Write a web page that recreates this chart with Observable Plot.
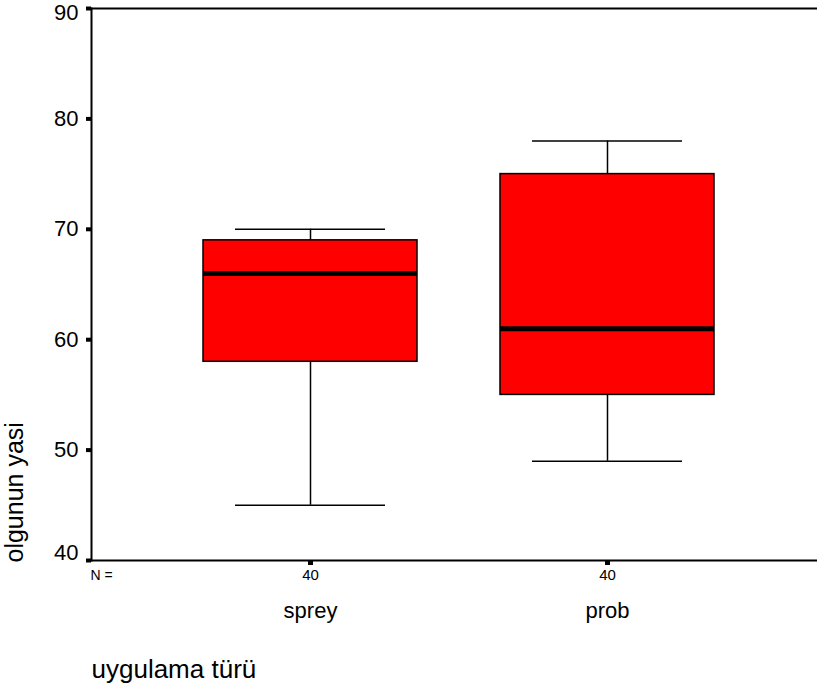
<!DOCTYPE html>
<html>
<head>
<meta charset="utf-8">
<script src="https://cdn.jsdelivr.net/npm/d3@7"></script>
<script src="https://cdn.jsdelivr.net/npm/@observablehq/plot@0.6"></script>
<style>
  html, body { margin: 0; padding: 0; background: #fff; }
  svg { display: block; }
</style>
</head>
<body>
<div id="chart"></div>
<script>
const categories = ["sprey", "prob"];
const lowWhisker = [45, 49];
const q1 = [58, 55];
const median = [66, 61];
const q3 = [69, 75];
const highWhisker = [70, 78];
const counts = [40, 40];
const yTicks = [40, 50, 60, 70, 80, 90];
const yLabel = "olgunun yasi";
const xLabel = "uygulama türü";

const rows = categories.map((c, i) => ({
  cat: c, lo: lowWhisker[i], q1: q1[i], med: median[i], q3: q3[i], hi: highWhisker[i], n: counts[i]
}));
const yMin = yTicks[0], yMax = yTicks[yTicks.length - 1];
const innerTicks = yTicks.filter(t => t !== yMin && t !== yMax);

const chart = Plot.plot({
  width: 817,
  height: 700,
  marginLeft: 91,
  marginRight: 0,
  marginTop: 8,
  marginBottom: 140,
  style: { fontFamily: "Arial, 'Liberation Sans', sans-serif", color: "#000", background: "#fff" },
  x: { type: "band", domain: categories, paddingInner: 0.278, paddingOuter: 0.359, align: 0.524, axis: null },
  y: { domain: [yMin, yMax], axis: null },
  marks: [
    Plot.ruleY([yMax], { stroke: "#000", strokeWidth: 2 }),
    Plot.ruleY([yMin], { stroke: "#000", strokeWidth: 2 }),
    Plot.frame({ anchor: "left", stroke: "#000", strokeWidth: 2 }),
    Plot.axisY({ ticks: yTicks, tickSize: 5, tickPadding: 8, strokeWidth: 4, fontSize: 22, label: null, tickFormat: () => "", stroke: "#000" }),
    Plot.text(innerTicks, { y: d => d, text: d => String(d), frameAnchor: "left", textAnchor: "end", dx: -13, fontSize: 22, fill: "#000" }),
    Plot.text([yMax], { y: d => d, text: d => String(d), frameAnchor: "left", textAnchor: "end", dx: -13, dy: 4, fontSize: 22, fill: "#000" }),
    Plot.text([yMin], { y: d => d, text: d => String(d), frameAnchor: "left", textAnchor: "end", dx: -13, dy: -8, fontSize: 22, fill: "#000" }),
    Plot.axisX({ tickSize: 5, tickPadding: 37, strokeWidth: 5, fontSize: 22, label: null }),
    Plot.ruleX(rows, { x: "cat", y1: "lo", y2: "hi", stroke: "#000", strokeWidth: 1.5 }),
    Plot.tickY(rows, { x: "cat", y: "lo", stroke: "#000", strokeWidth: 1.5, insetLeft: 32, insetRight: 32 }),
    Plot.tickY(rows, { x: "cat", y: "hi", stroke: "#000", strokeWidth: 1.5, insetLeft: 32, insetRight: 32 }),
    Plot.barY(rows, { x: "cat", y1: "q1", y2: "q3", fill: "#ff0000", stroke: "#000", strokeWidth: 1.5 }),
    Plot.tickY(rows, { x: "cat", y: "med", stroke: "#000", strokeWidth: 5 }),
    Plot.text(rows, { x: "cat", text: d => String(d.n), frameAnchor: "bottom", dy: 19, fontSize: 15, fill: "#000" }),
    Plot.text(["N ="], { frameAnchor: "bottom-left", dy: 19, dx: -1, fontSize: 14, fill: "#000" }),
    Plot.text([yLabel], { frameAnchor: "bottom-left", rotate: -90, textAnchor: "start", dx: -69, dy: 2, fontSize: 25, fill: "#000" }),
    Plot.text([xLabel], { frameAnchor: "bottom-left", textAnchor: "start", dx: 0, dy: 117, fontSize: 26, fill: "#000" })
  ]
});
document.getElementById("chart").appendChild(chart);
</script>
</body>
</html>
